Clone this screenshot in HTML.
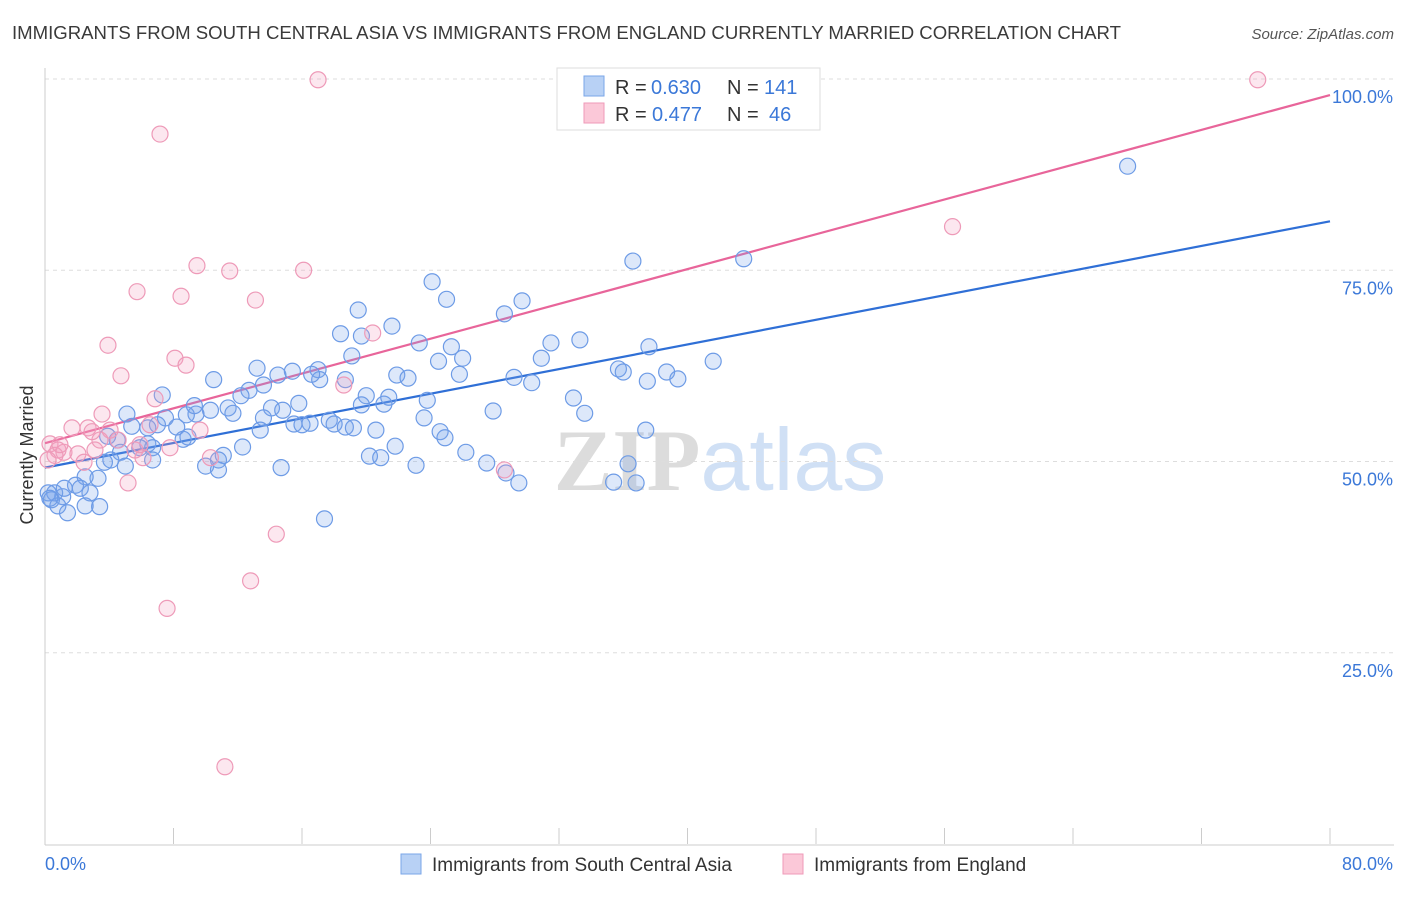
<!DOCTYPE html>
<html><head><meta charset="utf-8"><style>
body{margin:0;background:#fff;font-family:"Liberation Sans",sans-serif;}
svg text{font-family:"Liberation Sans",sans-serif;}
</style></head><body>
<svg id="chart" width="1406" height="892" xmlns="http://www.w3.org/2000/svg">
<text x="12" y="39" font-size="18" fill="#3a3a3a" textLength="1109" lengthAdjust="spacingAndGlyphs">IMMIGRANTS FROM SOUTH CENTRAL ASIA VS IMMIGRANTS FROM ENGLAND CURRENTLY MARRIED CORRELATION CHART</text>
<text x="1394" y="39" font-size="15" fill="#555" text-anchor="end" font-style="italic">Source: ZipAtlas.com</text>
<text x="720" y="490" font-size="88" text-anchor="middle"><tspan fill="#dcdcdc" font-family="Liberation Serif" font-weight="bold">ZIP</tspan><tspan fill="#d0e0f5">atlas</tspan></text>
<g id="grid"></g><g id="axes"></g><g id="lines"></g><g id="pts"></g>
<text transform="translate(33,455) rotate(-90)" font-size="18" fill="#333" text-anchor="middle">Currently Married</text>
<g>
<rect x="557" y="68" width="263" height="62" fill="#fff" stroke="#ddd"/>
<rect x="584" y="76" width="20" height="20" fill="#b8d1f5" stroke="#7aa6e8"/>
<rect x="584" y="103" width="20" height="20" fill="#fbc8d8" stroke="#ef9ab8"/>
<text x="615" y="94" font-size="20" fill="#333">R =</text>
<text x="651" y="94" font-size="20" fill="#3b78d8">0.630</text>
<text x="727" y="94" font-size="20" fill="#333">N =</text>
<text x="764" y="94" font-size="20" fill="#3b78d8">141</text>
<text x="615" y="121" font-size="20" fill="#333">R =</text>
<text x="652" y="121" font-size="20" fill="#3b78d8">0.477</text>
<text x="727" y="121" font-size="20" fill="#333">N =</text>
<text x="769" y="121" font-size="20" fill="#3b78d8">46</text>
</g>
<g>
<rect x="401" y="854" width="20" height="20" fill="#b8d1f5" stroke="#7aa6e8"/>
<text x="432" y="871" font-size="19" fill="#333">Immigrants from South Central Asia</text>
<rect x="783" y="854" width="20" height="20" fill="#fbc8d8" stroke="#ef9ab8"/>
<text x="814" y="871" font-size="19" fill="#333">Immigrants from England</text>
</g>
</svg>
<script>
const yTicks=[25,50,75,100];
const xTickLabels=["0.0%","80.0%"];
const blueX=[67.4,36.6,43.5,24.1,25.0,29.7,19.5,28.6,18.4,19.7,21.6,23.3,31.5,33.3,37.6,25.3,26.0,24.5,19.1,30.9,41.6,35.7,36.0,38.7,39.4,37.5,25.8,29.2,30.3,21.9,22.6,18.7,17.0,17.1,16.6,13.2,14.5,15.4,13.6,10.5,12.7,12.2,11.4,11.7,7.3,32.9,23.8,33.6,27.9,21.1,21.4,20.0,19.7,17.7,18.0,15.8,14.1,13.6,14.8,15.5,16.0,16.5,10.3,9.4,8.8,9.3,5.1,5.4,13.4,20.6,23.6,24.6,24.9,18.7,19.2,7.5,7.0,6.4,8.2,8.6,8.9,6.4,5.9,6.7,3.9,4.5,4.7,3.7,4.1,5.0,6.7,11.1,10.8,12.3,10.0,10.8,14.7,20.2,20.9,21.8,23.1,26.2,27.5,28.7,29.5,35.4,36.8,36.3,37.4,17.4,3.3,2.5,1.9,2.2,2.8,1.1,0.6,0.2,0.4,0.8,1.4,2.5,3.4,0.3,1.2];
const blueY=[88.6,76.2,76.5,73.5,71.2,71.0,69.8,69.3,66.7,66.4,67.7,65.5,65.5,65.9,65.0,65.0,63.5,63.1,63.8,63.5,63.1,62.1,61.7,61.7,60.8,60.5,61.4,61.0,60.3,61.3,60.9,60.7,62.0,60.7,61.4,62.2,61.3,61.8,60.0,60.7,59.3,58.6,57.0,56.3,58.7,58.3,58.0,56.3,56.6,57.5,58.4,58.6,57.4,55.4,54.9,57.6,57.0,55.7,56.7,54.9,54.8,55.0,56.7,56.2,56.1,57.3,56.2,54.6,54.1,54.1,55.7,53.9,53.1,54.5,54.4,55.7,54.8,54.4,54.5,52.9,53.2,52.3,51.8,51.8,53.3,52.8,51.2,49.9,50.2,49.4,50.2,50.8,50.2,51.9,49.4,48.9,49.2,50.7,50.5,52.0,49.5,51.2,49.8,48.5,47.2,47.3,47.2,49.7,54.1,42.5,47.8,48.0,46.9,46.5,45.9,45.4,45.9,45.9,45.0,44.2,43.3,44.2,44.1,45.2,46.5];
const pinkX=[17.0,75.5,7.16,56.5,9.46,11.5,16.1,5.73,8.47,13.1,20.4,3.92,8.09,8.78,4.73,18.6,6.85,3.55,1.68,2.68,0.31,0.81,1.18,2.05,3.11,4.55,5.60,6.10,7.78,9.65,2.43,0.62,0.19,5.17,28.6,14.4,12.8,7.6,11.2,4.05,6.54,10.3,0.93,3.42,2.93,5.91];
const pinkY=[99.9,99.9,92.8,80.7,75.6,74.9,75.0,72.2,71.6,71.1,66.8,65.2,63.5,62.6,61.2,60.0,58.2,56.2,54.4,54.4,52.3,51.5,51.2,51.0,51.5,52.8,51.5,50.5,51.8,54.1,49.9,50.8,50.2,47.2,48.9,40.5,34.4,30.8,10.1,54.1,54.8,50.5,52.2,52.8,53.9,52.2];
const blueLine=[0,49.2,80,81.4];
const pinkLine=[0,52.4,80,97.9];
const X0=45,X1=1330,Y0=844,Y100=79;
const sx=v=>X0+(X1-X0)*v/80, sy=v=>Y0-(Y0-Y100)*v/100;
const NS="http://www.w3.org/2000/svg";
function mk(t,a,p){const e=document.createElementNS(NS,t);for(const k in a)e.setAttribute(k,a[k]);p.appendChild(e);return e;}
const grid=document.getElementById('grid'),axes=document.getElementById('axes');
[...yTicks].forEach(t=>{
 const l=mk('line',{x1:X0,x2:1394,y1:sy(t),y2:sy(t),stroke:'#ddd','stroke-dasharray':'4,4'},grid);
 
 
 const tx=mk('text',{x:1393,y:sy(t)+24,'font-size':18,fill:'#3b78d8','text-anchor':'end'},axes);
 tx.textContent=t.toFixed(1)+'%';
 
 
});
let a=mk('line',{x1:X0,x2:X0,y1:68,y2:Y0+1,stroke:'#ccc'},axes);


a=mk('line',{x1:X0,x2:1394,y1:Y0+1,y2:Y0+1,stroke:'#ccc'},axes);


for(let i=1;i<=10;i++){const x=sx(i*8);const t=mk('line',{x1:x,x2:x,y1:828,y2:Y0,stroke:'#ccc'},axes);
 
 }
let t1=mk('text',{x:45,y:870,'font-size':18,fill:'#3b78d8'},axes);t1.textContent=xTickLabels[0];


let t2=mk('text',{x:1393,y:870,'font-size':18,fill:'#3b78d8','text-anchor':'end'},axes);t2.textContent=xTickLabels[1];


const pts=document.getElementById('pts'),lines=document.getElementById('lines');
blueX.forEach((v,i)=>{const c=mk('circle',{cx:sx(v),cy:sy(blueY[i]),r:8,fill:'rgba(120,165,235,0.25)',stroke:'#6d9be6','stroke-width':1.2},pts);
 
 });
pinkX.forEach((v,i)=>{const c=mk('circle',{cx:sx(v),cy:sy(pinkY[i]),r:8,fill:'rgba(245,160,190,0.25)',stroke:'#ee9ab8','stroke-width':1.2},pts);
 
 });
let bl=mk('line',{x1:sx(blueLine[0]),y1:sy(blueLine[1]),x2:sx(blueLine[2]),y2:sy(blueLine[3]),stroke:'#2f6fd6','stroke-width':2.2},lines);


let pl=mk('line',{x1:sx(pinkLine[0]),y1:sy(pinkLine[1]),x2:sx(pinkLine[2]),y2:sy(pinkLine[3]),stroke:'#e8659a','stroke-width':2.2},lines);


</script>
</body></html>
